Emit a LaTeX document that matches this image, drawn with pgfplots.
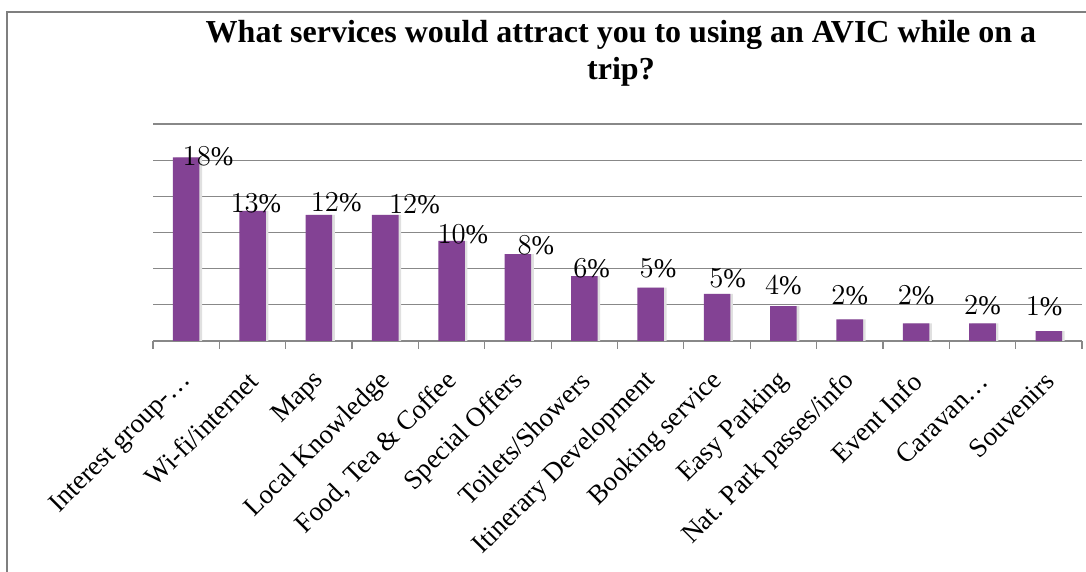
\documentclass[border=0pt]{standalone}
\usepackage{pgfplots}
\pgfplotsset{compat=1.18}
\usepackage{pgfplotstable}
\usepackage{fontspec}
\setmainfont{Liberation Serif}
\definecolor{barpurple}{HTML}{834294}
\definecolor{gridgray}{HTML}{888888}
\definecolor{framegray}{HTML}{7F7F7F}

\pgfplotstableread{
idx val lx ly pct
0 101.5 0.33 102 18
1 72.0 1.05 76.2 13
2 69.8 2.26 76.8 12
3 69.8 3.44 75.7 12
4 55.4 4.17 59.1 10
5 48.0 5.27 53.0 8
6 35.9 6.11 40.0 6
7 29.5 7.11 40.0 5
8 26.0 8.16 34.5 5
9 19.3 9.00 31.0 4
10 12.0 10.00 25.4 2
11 9.8 11.00 25.4 2
12 9.8 12.00 19.9 2
13 5.5 12.93 19.0 1
}\datatable

\begin{document}
\begin{tikzpicture}
\useasboundingbox (0,0) rectangle (543pt,286pt);
\draw[framegray, line width=1pt] (3.5pt,-20pt) rectangle (560pt,279.8pt);
\node[anchor=base, font=\fontsize{16}{19}\selectfont\bfseries] at (310.5pt,264.5pt) {What services would attract you to using an AVIC while on a};
\node[anchor=base, font=\fontsize{16}{19}\selectfont\bfseries] at (310.5pt,246pt) {trip?};
\begin{axis}[
  at={(76.5pt,115.5pt)}, anchor=south west,
  scale only axis, width=464.5pt, height=108.5pt,
  xmin=-0.5, xmax=13.5, ymin=0, ymax=120,
  ytick={0,20,...,120}, yticklabels={},
  ymajorgrids, grid style={gridgray, line width=0.6pt},
  axis x line*=bottom, axis y line*=left,
  y axis line style={draw=none}, ytick style={draw=none},
  x axis line style={gridgray, line width=0.6pt},
  xtick={0,...,13},
  xticklabels={Interest group-…, Wi-fi/internet, Maps, Local Knowledge, {Food, Tea \& Coffee}, Special Offers, Toilets/Showers, Itinerary Development, Booking service, Easy Parking, Nat. Park passes/info, Event Info, Caravan…, Souvenirs},
  major tick length=0pt,
  minor xtick={-0.5,0.5,...,13.5}, minor tick length=4pt, xtick align=outside,
  minor x tick style={gridgray, line width=0.6pt},
  x tick label style={xshift=3pt, yshift=-15.5pt, rotate=45, anchor=east, font=\fontsize{13.5}{16}\selectfont},
  clip=false,
]
\addplot[ybar, bar width=0.4, bar shift=1.3pt, fill=black!12, draw=none] table[x=idx, y=val]{\datatable};
\addplot[ybar, bar width=0.4, fill=barpurple, draw=none] table[x=idx, y=val]{\datatable};
\addplot[draw=none, mark=none, nodes near coords={\pgfmathprintnumber{\pgfplotspointmeta}\%}, point meta=explicit,
  every node near coord/.append style={anchor=center, font=\fontsize{13.5}{16}\selectfont, text=black}]
  table[x=lx, y=ly, meta=pct]{\datatable};
\end{axis}
\end{tikzpicture}
\end{document}
